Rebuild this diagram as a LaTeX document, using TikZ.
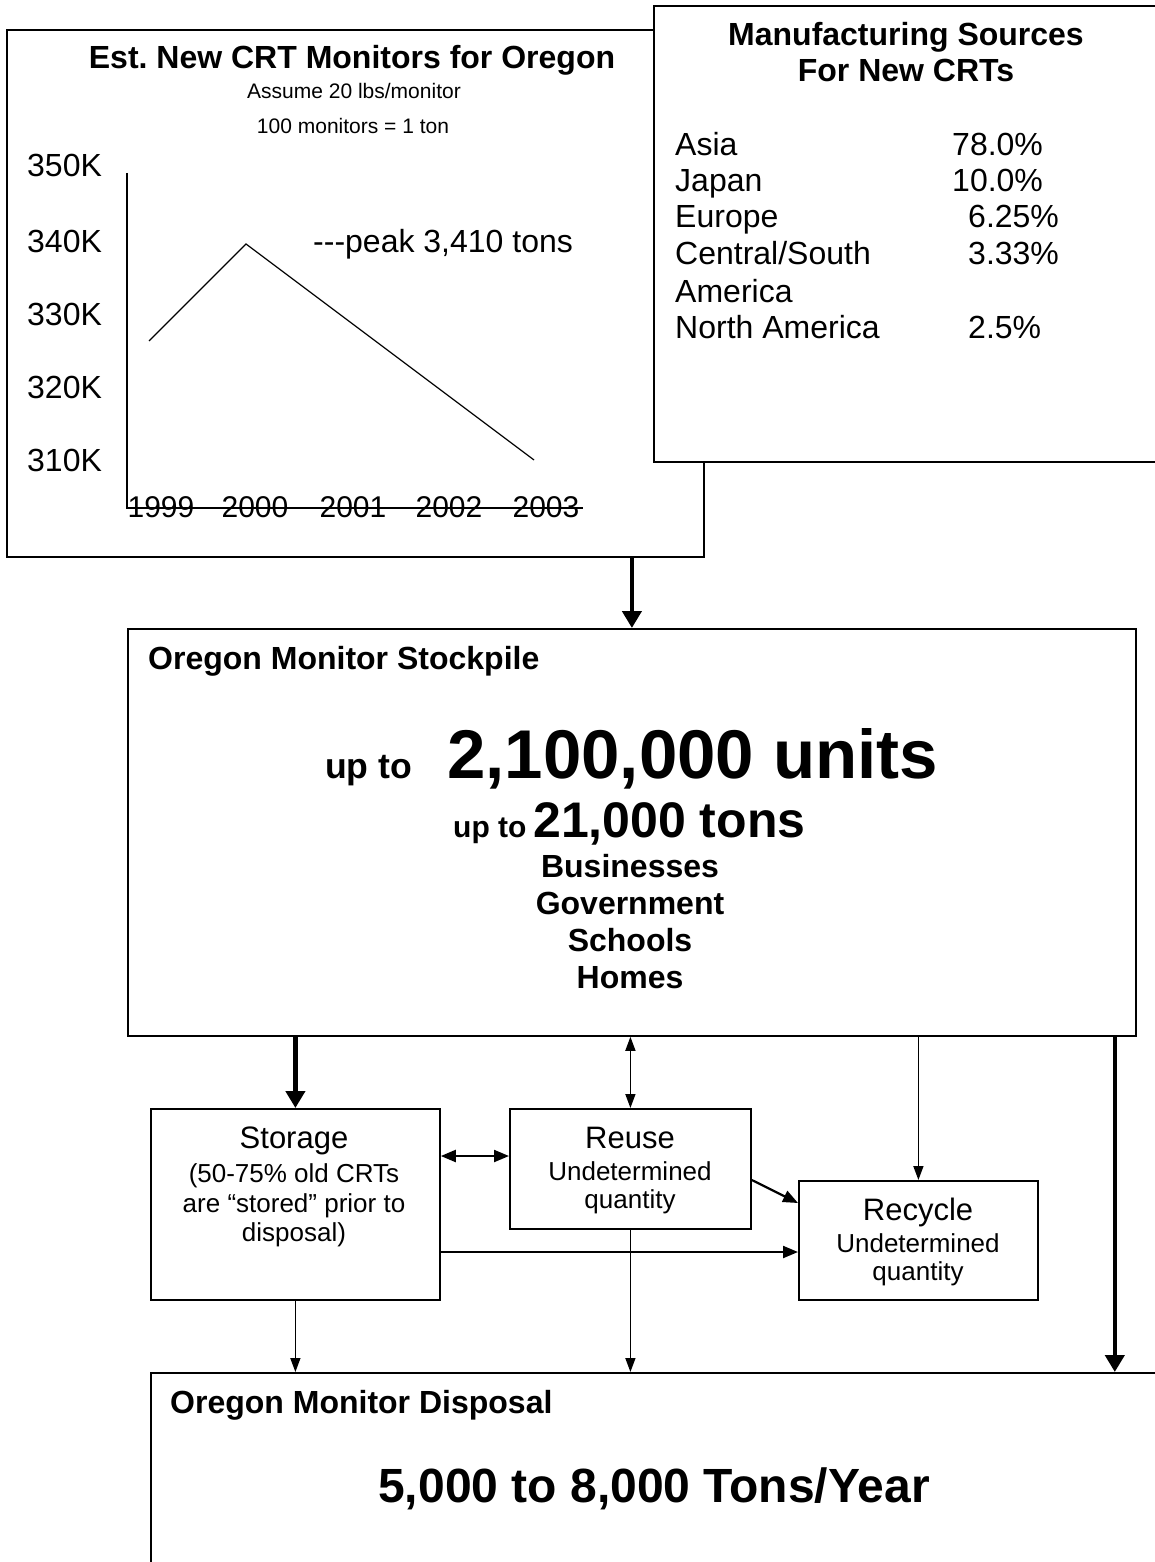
\documentclass[tikz,border=0pt]{standalone}
\usepackage{fontspec}
\setmainfont{Liberation Sans}
\usetikzlibrary{arrows.meta,calc}
\newcommand\myfs[1]{\fontsize{#1}{#1}\selectfont}
\frenchspacing
\begin{document}
\begin{tikzpicture}[x=1pt,y=-1pt,
  box/.style={draw, line width=1.8pt, inner sep=0pt, anchor=north west},
  txt/.style={inner sep=0pt, anchor=base},
  txtl/.style={inner sep=0pt, anchor=base west},
  big/.style={font=\myfs{32}},
  bigb/.style={font=\bfseries\myfs{32}},
  small/.style={font=\myfs{26}},
  head/.style={font=\myfs{31}},
  axisline/.style={line width=1.2pt},
  thick arrow/.style={line width=4.5pt, -{Triangle[width=19pt,length=17pt]}},
  thin arrow/.style={line width=1.5pt, -{Triangle[width=10pt,length=14pt]}},
  mid arrow/.style={line width=2.2pt, -{Triangle[width=12pt,length=15pt]}},
  dbl arrow/.style={line width=2.2pt, {Triangle[width=12pt,length=15pt]}-{Triangle[width=12pt,length=15pt]}},
  dbl thin/.style={line width=1.5pt, {Triangle[width=10pt,length=14pt]}-{Triangle[width=10pt,length=14pt]}}
]
\useasboundingbox (0,0) rectangle (1155,1562);
\fill[white] (0,0) rectangle (1155,1562);

% ---------- chart box ----------
\node[box, minimum width=697pt, minimum height=527pt] (chart) at (6,29) {};
\node[txt, bigb] (ct) at (352,69) {Est. New CRT Monitors for Oregon};
\node[txt, font=\myfs{21}] (ca) at (354,99) {Assume 20 lbs/monitor};
\node[txt, font=\myfs{21}] (cb) at (353,134) {100 monitors = 1 ton};
\node[txtl, big] (y350) at (27,177) {350K};
\node[txtl, big] (y340) at (27,252) {340K};
\node[txtl, big] (y330) at (27,325) {330K};
\node[txtl, big] (y320) at (27,398) {320K};
\node[txtl, big] (y310) at (27,471) {310K};
\coordinate (axtop) at (127,173);
\coordinate (ax0) at (127,508);
\coordinate (axr) at (583,508);
\draw[axisline] (axtop) -- (ax0) -- (axr);
\coordinate (p1) at (149,341);
\coordinate (p2) at (246,244);
\coordinate (p3) at (534,460);
\draw[axisline] (p1) -- (p2) -- (p3);
\node[txtl, big] (peak) at (313,252) {{-}{-}{-}peak 3,410 tons};
\node[txt, font=\myfs{30}] (yr1) at (161,517) {1999};
\node[txt, font=\myfs{30}] (yr2) at (255,517) {2000};
\node[txt, font=\myfs{30}] (yr3) at (353,517) {2001};
\node[txt, font=\myfs{30}] (yr4) at (449,517) {2002};
\node[txt, font=\myfs{30}] (yr5) at (546,517) {2003};

% ---------- manufacturing box ----------
\node[box, fill=white, minimum width=512pt, minimum height=456pt] (mfg) at (653,5) {};
\node[txt, bigb] (mt1) at (906,46) {Manufacturing Sources};
\node[txt, bigb] (mt2) at (906,82) {For New CRTs};
\node[txtl, big] (m1) at (675,156) {Asia};
\node[txtl, big] (m2) at (675,192) {Japan};
\node[txtl, big] (m3) at (675,228) {Europe};
\node[txtl, big] (m4) at (675,265) {Central/South};
\node[txtl, big] (m5) at (675,302) {America};
\node[txtl, big] (m6) at (675,338) {North America};
\node[txtl, big] (v1) at (952,156) {78.0\%};
\node[txtl, big] (v2) at (952,192) {10.0\%};
\node[txtl, big] (v3) at (968,228) {6.25\%};
\node[txtl, big] (v4) at (968,265) {3.33\%};
\node[txtl, big] (v6) at (968,338) {2.5\%};

% ---------- stockpile ----------
\node[box, minimum width=1008pt, minimum height=407pt] (stock) at (127,628) {};
\node[txtl, bigb] (st1) at (148,669) {Oregon Monitor Stockpile};
\node[txtl, font=\bfseries\myfs{35.6}] (st2) at (325,778) {up to};
\node[txtl, font=\bfseries\myfs{69}] (st3) at (447,778) {2,100,000 units};
\node[txtl, font=\bfseries\myfs{30}] (st4) at (453,837) {up to};
\node[txtl, font=\bfseries\myfs{50}] (st5) at (533,837) {21,000 tons};
\node[txt, bigb] (st6) at (630,877) {Businesses};
\node[txt, bigb] (st7) at (630,914) {Government};
\node[txt, bigb] (st8) at (630,951) {Schools};
\node[txt, bigb] (st9) at (630,988) {Homes};

% ---------- storage / reuse / recycle ----------
\node[box, minimum width=289pt, minimum height=191pt] (storage) at (150,1108) {};
\node[txt, head] (sg1) at (294,1148) {Storage};
\node[txt, small] (sg2) at (294,1182) {(50-75\% old CRTs};
\node[txt, small] (sg3) at (294,1212) {are “stored” prior to};
\node[txt, small] (sg4) at (294,1241) {disposal)};

\node[box, minimum width=241pt, minimum height=120pt] (reuse) at (509,1108) {};
\node[txt, head] (ru1) at (630,1148) {Reuse};
\node[txt, small] (ru2) at (630,1180) {Undetermined};
\node[txt, small] (ru3) at (630,1208) {quantity};

\node[box, minimum width=239pt, minimum height=119pt] (recycle) at (798,1180) {};
\node[txt, head] (rc1) at (918,1220) {Recycle};
\node[txt, small] (rc2) at (918,1252) {Undetermined};
\node[txt, small] (rc3) at (918,1280) {quantity};

% ---------- disposal ----------
\node[box, minimum width=1020pt, minimum height=200pt] (disp) at (150,1372) {};
\node[txtl, bigb] (dp1) at (170,1413) {Oregon Monitor Disposal};
\node[txt, font=\bfseries\myfs{48}] (dp2) at (654,1502) {5,000 to 8,000 Tons/Year};

% ---------- connectors ----------
\draw[thick arrow] (chart.south -| stock.north) -- (stock.north);
\draw[thick arrow] (stock.south -| storage.north) -- (storage.north);
\draw[dbl thin] (stock.south -| reuse.north) -- (reuse.north);
\draw[thin arrow] (stock.south -| recycle.north) -- (recycle.north);
\coordinate (sr) at ($(stock.south east)+(-22,0)$);
\draw[thick arrow] (sr) -- (sr |- disp.north);
\coordinate (sgA) at ($(storage.north east)+(0,48)$);
\draw[dbl arrow] (sgA) -- (sgA -| reuse.west);
\coordinate (ruA) at ($(reuse.north east)+(0,72)$);
\coordinate (rcA) at ($(recycle.north west)+(0,23)$);
\draw[mid arrow] (ruA) -- (rcA);
\coordinate (sgB) at ($(storage.north east)+(0,144)$);
\draw[mid arrow] (sgB) -- (sgB -| recycle.west);
\draw[thin arrow] (storage.south) -- (storage.south |- disp.north);
\draw[thin arrow] (reuse.south) -- (reuse.south |- disp.north);
\end{tikzpicture}
\end{document}
